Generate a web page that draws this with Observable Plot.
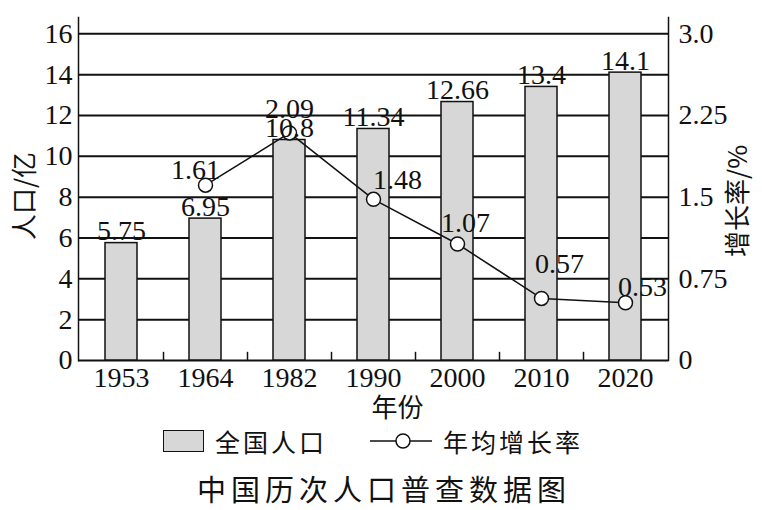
<!DOCTYPE html>
<html>
<head>
<meta charset="utf-8">
<script src="https://cdn.jsdelivr.net/npm/d3@7"></script>
<script src="https://cdn.jsdelivr.net/npm/@observablehq/plot@0.6"></script>
<style>
  html, body { margin: 0; padding: 0; background: #fff; overflow: hidden; }
  #wrap { position: relative; width: 762px; height: 510px; font-family: "Liberation Serif", "Noto Sans CJK SC", serif; }
  .abs { position: absolute; white-space: nowrap; color: #111; }
</style>
</head>
<body>
<div id="wrap">
  <div id="chart"></div>
  <div id="legend"></div>
  <div id="title" class="abs"></div>
</div>
<script>
// ---- data ----
const years = ["1953", "1964", "1982", "1990", "2000", "2010", "2020"];
const population = [5.75, 6.95, 10.8, 11.34, 12.66, 13.4, 14.1];
const rateYears = ["1964", "1982", "1990", "2000", "2010", "2020"];
const rates = [1.61, 2.09, 1.48, 1.07, 0.57, 0.53];
const leftTicks = [0, 2, 4, 6, 8, 10, 12, 14, 16];
const rightTicks = [0, 0.75, 1.5, 2.25, 3.0];
const rightTickLabels = ["0", "0.75", "1.5", "2.25", "3.0"];
const leftTitle = "人口/亿";
const rightTitle = "增长率/%";
const xTitle = "年份";
const legendLabels = ["全国人口", "年均增长率"];
const chartTitle = "中国历次人口普查数据图";

// layout-only offsets for rate labels (pixels)
const rateLabelOffsets = [[-10, -15], [0, -24], [24, -19], [8, -21], [18, -34], [17, -16]];

const k = 16 / 3; // right axis (0–3.0) mapped onto left axis (0–16)
const popData = years.map((y, i) => ({year: y, pop: population[i]}));
const rateData = rateYears.map((y, i) => ({year: y, rate: rates[i]}));

const FONT = "'Liberation Serif', 'Noto Sans CJK SC', serif";
const CJK = "'Noto Sans CJK SC', sans-serif";
const barFill = "#d7d7d7";
const FS = 28;

const rateLabelMarks = rateData.map((d, i) => Plot.text([d], {
  x: "year", y: r => r.rate * k, text: r => String(r.rate),
  dx: rateLabelOffsets[i][0], dy: rateLabelOffsets[i][1],
  fontSize: FS, fontFamily: FONT, fill: "#111", textAnchor: "middle", lineAnchor: "middle"
}));

const chart = Plot.plot({
  width: 762,
  height: 426,
  marginLeft: 78,
  marginRight: 94,
  marginTop: 17,
  marginBottom: 66,
  style: {fontFamily: FONT, fontSize: FS + "px", color: "#111", background: "#fff"},
  x: {type: "band", domain: years, paddingInner: 0.62, paddingOuter: 0.31},
  y: {domain: [0, 16.8]},
  marks: [
    Plot.ruleY(leftTicks, {stroke: "#111", strokeWidth: 2}),
    Plot.barY(popData, {x: "year", y: "pop", fill: barFill, stroke: "#111", strokeWidth: 1.5}),
    Plot.ruleX(years.slice(0, -1), {x: d => d, dx: 42, y1: 0, y2: 0.4, stroke: "#111", strokeWidth: 1.5}),
    Plot.frame({anchor: "left", stroke: "#111", strokeWidth: 1.5}),
    Plot.frame({anchor: "right", stroke: "#111", strokeWidth: 1.5}),
    Plot.axisY({ticks: leftTicks, anchor: "left", tickSize: 0, tickPadding: 6, label: null, fontSize: FS, fill: "#111"}),
    Plot.axisY({
      ticks: rightTicks.map(v => v * k), anchor: "right", tickSize: 0, tickPadding: 10, label: null,
      tickFormat: d => rightTickLabels[rightTicks.findIndex(v => Math.abs(v * k - d) < 1e-6)],
      fontSize: FS, fill: "#111"
    }),
    Plot.axisX({anchor: "bottom", tickSize: 0, tickPadding: 7, label: null, fontSize: FS, fill: "#111"}),
    Plot.line(rateData, {x: "year", y: d => d.rate * k, stroke: "#111", strokeWidth: 1.5}),
    Plot.dot(rateData, {x: "year", y: d => d.rate * k, r: 7, fill: "#fff", stroke: "#111", strokeWidth: 1.5}),
    Plot.text(popData, {x: "year", y: "pop", text: d => String(d.pop), dy: -3, lineAnchor: "bottom", fontSize: FS, fontFamily: FONT, fill: "#111"}),
    ...rateLabelMarks,
    Plot.text([leftTitle], {frameAnchor: "left", text: d => d, dx: -53, dy: 7, rotate: -90, textAnchor: "middle", lineAnchor: "middle", fontSize: 26, fontFamily: CJK, fill: "#111"}),
    Plot.text([rightTitle], {frameAnchor: "right", text: d => d, dx: 70, dy: 12, rotate: -90, textAnchor: "middle", lineAnchor: "middle", fontSize: 26, fontFamily: CJK, fill: "#111"}),
    Plot.text([xTitle], {frameAnchor: "bottom", text: d => d, dx: 24, dy: 48, textAnchor: "middle", lineAnchor: "middle", fontSize: 26, fontFamily: CJK, fill: "#111"})
  ]
});
document.getElementById("chart").appendChild(chart);

// ---- legend ----
const legend = document.getElementById("legend");
legend.innerHTML = `
  <div class="abs" style="left:163px;top:430px;width:39px;height:20px;background:${barFill};border:1.5px solid #111;"></div>
  <div class="abs" style="left:215px;top:426px;font-family:${CJK};font-size:25px;line-height:30px;letter-spacing:3px;">${legendLabels[0]}</div>
  <svg class="abs" style="left:370px;top:431px;" width="62" height="20">
    <line x1="0" y1="10" x2="62" y2="10" stroke="#111" stroke-width="1.5"/>
    <circle cx="33" cy="10" r="7" fill="#fff" stroke="#111" stroke-width="1.5"/>
  </svg>
  <div class="abs" style="left:443px;top:426px;font-family:${CJK};font-size:25px;line-height:30px;letter-spacing:3px;">${legendLabels[1]}</div>
`;

const t = document.getElementById("title");
t.textContent = chartTitle;
t.style.cssText += `left:0;width:762px;text-align:center;top:472px;font-family:${CJK};font-size:29px;line-height:32px;letter-spacing:5px;padding-left:6px;box-sizing:border-box;`;
</script>
</body>
</html>
